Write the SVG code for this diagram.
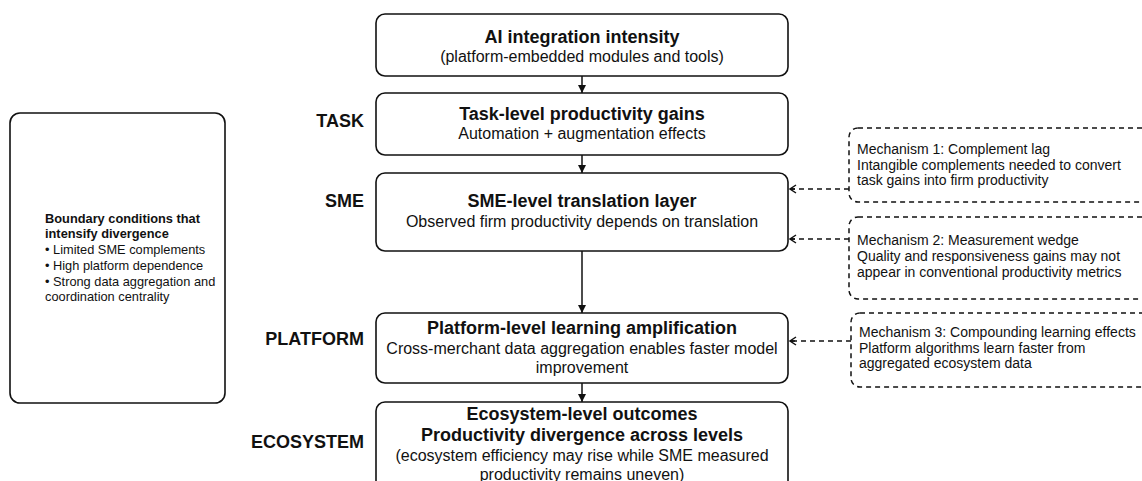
<svg xmlns="http://www.w3.org/2000/svg" width="1142" height="481" viewBox="0 0 1142 481">
<style>
text{font-family:"Liberation Sans",Arial,Helvetica,sans-serif;fill:#111}
.box{fill:#fff;stroke:#111;stroke-width:1.6}
.dbox{fill:#fff;stroke:#111;stroke-width:1.5;stroke-dasharray:5 4}
.t{font-size:18px;font-weight:bold;text-anchor:middle}
.s{font-size:16px;text-anchor:middle}
.lvl{font-size:18px;font-weight:bold;text-anchor:end}
.m{font-size:14px}
.b{font-size:12.8px}
.bb{font-size:12.8px;font-weight:bold}
.c{stroke:#111;stroke-width:1.5;fill:none}
.cd{stroke:#111;stroke-width:1.5;fill:none;stroke-dasharray:5 4}
</style>
<defs>
<marker id="ah" markerWidth="10" markerHeight="10" refX="9" refY="5" orient="auto" markerUnits="userSpaceOnUse">
<path d="M1,1 L9,5 L1,9 Z" fill="#111"/>
</marker>
<marker id="oh" markerWidth="12" markerHeight="12" refX="8" refY="6" orient="auto" markerUnits="userSpaceOnUse">
<path d="M2,2 L8,6 L2,10 M8,6 L3,6" fill="none" stroke="#111" stroke-width="1.5"/>
</marker>
</defs>

<g id="boundary">
<rect class="box" x="10" y="113" width="215" height="290" rx="10"/>
<text class="bb" x="45" y="223">Boundary conditions that</text>
<text class="bb" x="45" y="238">intensify divergence</text>
<text class="b" x="45" y="254">• Limited SME complements</text>
<text class="b" x="45" y="270">• High platform dependence</text>
<text class="b" x="45" y="286">• Strong data aggregation and</text>
<text class="b" x="45" y="301">coordination centrality</text>
</g>

<g id="labels">
<text class="lvl" x="364" y="127">TASK</text>
<text class="lvl" x="364" y="207">SME</text>
<text class="lvl" x="364" y="345">PLATFORM</text>
<text class="lvl" x="364" y="448">ECOSYSTEM</text>
</g>

<g id="ai">
<rect class="box" x="376" y="14" width="412" height="62" rx="9"/>
<text class="t" x="582" y="43">AI integration intensity</text>
<text class="s" x="582" y="62">(platform-embedded modules and tools)</text>
</g>

<g id="task">
<rect class="box" x="376" y="93" width="412" height="62" rx="9"/>
<text class="t" x="582" y="120">Task-level productivity gains</text>
<text class="s" x="582" y="139">Automation + augmentation effects</text>
</g>

<g id="sme">
<rect class="box" x="376" y="173" width="412" height="78" rx="9"/>
<text class="t" x="582" y="207">SME-level translation layer</text>
<text class="s" x="582" y="227">Observed firm productivity depends on translation</text>
</g>

<g id="platform">
<rect class="box" x="376" y="313" width="412" height="70" rx="9"/>
<text class="t" x="582" y="334">Platform-level learning amplification</text>
<text class="s" x="582" y="354">Cross-merchant data aggregation enables faster model</text>
<text class="s" x="582" y="373">improvement</text>
</g>

<g id="ecosystem">
<rect class="box" x="376" y="402" width="412" height="100" rx="9"/>
<text class="t" x="582" y="420">Ecosystem-level outcomes</text>
<text class="t" x="582" y="441">Productivity divergence across levels</text>
<text class="s" x="582" y="461">(ecosystem efficiency may rise while SME measured</text>
<text class="s" x="582" y="480">productivity remains uneven)</text>
</g>

<g id="mech1">
<rect class="dbox" x="849" y="128" width="310" height="74" rx="9"/>
<text class="m" x="857" y="154">Mechanism 1: Complement lag</text>
<text class="m" x="857" y="170">Intangible complements needed to convert</text>
<text class="m" x="857" y="185">task gains into firm productivity</text>
</g>

<g id="mech2">
<rect class="dbox" x="849" y="217" width="310" height="82" rx="9"/>
<text class="m" x="857" y="245">Mechanism 2: Measurement wedge</text>
<text class="m" x="857" y="261">Quality and responsiveness gains may not</text>
<text class="m" x="857" y="277">appear in conventional productivity metrics</text>
</g>

<g id="mech3">
<rect class="dbox" x="851" y="313" width="310" height="74" rx="9"/>
<text class="m" x="859" y="337">Mechanism 3: Compounding learning effects</text>
<text class="m" x="859" y="352.5">Platform algorithms learn faster from</text>
<text class="m" x="859" y="368">aggregated ecosystem data</text>
</g>

<g id="connectors">
<line class="c" x1="582" y1="76" x2="582" y2="93" marker-end="url(#ah)"/>
<line class="c" x1="582" y1="155" x2="582" y2="173" marker-end="url(#ah)"/>
<line class="c" x1="582" y1="251" x2="582" y2="313" marker-end="url(#ah)"/>
<line class="c" x1="582" y1="383" x2="582" y2="402" marker-end="url(#ah)"/>
<line class="cd" x1="849" y1="189" x2="790" y2="189" marker-end="url(#oh)"/>
<line class="cd" x1="849" y1="239" x2="790" y2="239" marker-end="url(#oh)"/>
<line class="cd" x1="851" y1="341" x2="790" y2="341" marker-end="url(#oh)"/>
</g>
</svg>
